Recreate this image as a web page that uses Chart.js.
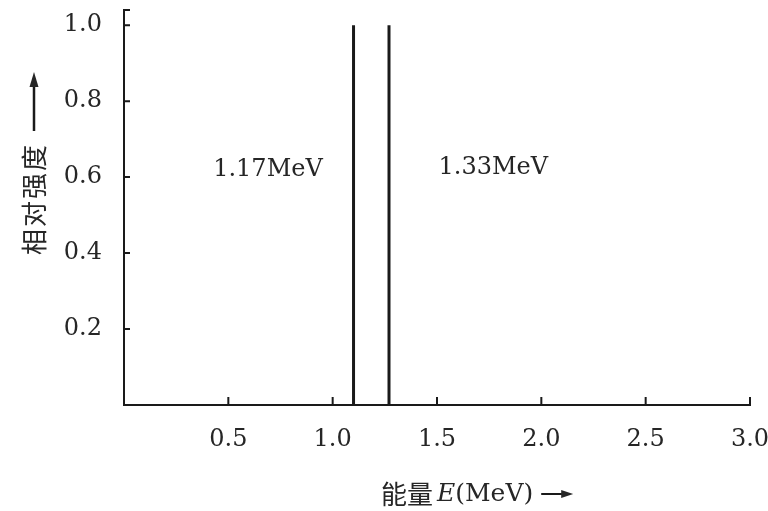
<!DOCTYPE html>
<html>
<head>
<meta charset="utf-8">
<script src="https://cdn.jsdelivr.net/npm/chart.js@4"></script>
<style>
  html, body { margin: 0; padding: 0; background: #fff; }
  #wrap { width: 768px; height: 511px; }
</style>
</head>
<body>
<div id="wrap"><canvas id="c"></canvas></div>
<script>
'use strict';

// ── data ───────────────────────────────────────────────────────────
const xTicks        = [0.5, 1.0, 1.5, 2.0, 2.5, 3.0];
const yTicks        = [0.2, 0.4, 0.6, 0.8, 1.0];
const peakEnergy    = [1.10, 1.27];
const peakIntensity = [1.0, 1.0];
const peakLabels    = ['1.17MeV', '1.33MeV'];

// label anchors in data units (energy, intensity)
const LABEL_AT = [[0.69, 0.62], [1.77, 0.625]];

const INK   = '#1a1a1a';
const TEXT  = '#262626';
const SERIF = "'DejaVu Serif', 'Liberation Serif', serif";
const CJK   = "'Noto Sans CJK SC', sans-serif";

Chart.defaults.font.family = SERIF;
Chart.defaults.color = TEXT;

const datasets = peakEnergy.map((e, i) => ({
  data: [{ x: e, y: 0 }, { x: e, y: peakIntensity[i] }],
  showLine: true,
  borderColor: INK,
  borderWidth: 3,
  pointRadius: 0,
}));

// inward ticks, peak labels, axis titles
const decor = {
  id: 'decor',
  afterDraw(chart) {
    const { ctx, chartArea: a, scales: { x, y } } = chart;
    ctx.save();
    ctx.strokeStyle = INK;
    ctx.lineWidth = 2;
    ctx.beginPath();
    xTicks.forEach(v => {
      const px = x.getPixelForValue(v);
      ctx.moveTo(px, a.bottom);
      ctx.lineTo(px, a.bottom - 8);
    });
    yTicks.forEach(v => {
      const py = y.getPixelForValue(v);
      ctx.moveTo(a.left, py);
      ctx.lineTo(a.left + 6, py);
    });
    // little cap at the top of the y axis
    ctx.moveTo(a.left, a.top);
    ctx.lineTo(a.left + 6, a.top);
    ctx.stroke();

    // peak labels
    ctx.fillStyle = TEXT;
    ctx.font = '24px ' + SERIF;
    ctx.textAlign = 'center';
    ctx.textBaseline = 'middle';
    peakLabels.forEach((t, i) => {
      ctx.fillText(t, x.getPixelForValue(LABEL_AT[i][0]), y.getPixelForValue(LABEL_AT[i][1]));
    });

    // y title (rotated, reads bottom to top) + arrow
    ctx.save();
    ctx.translate(a.left - 90, 255);
    ctx.rotate(-Math.PI / 2);
    ctx.textAlign = 'left';
    ctx.font = '26px ' + CJK;
    ctx.letterSpacing = '2px';
    ctx.fillText('相对强度', 0, 0);
    ctx.letterSpacing = '0px';
    ctx.lineWidth = 2.5;
    ctx.beginPath();
    ctx.moveTo(124, 0);
    ctx.lineTo(172, 0);
    ctx.stroke();
    ctx.beginPath();
    ctx.moveTo(183, 0);
    ctx.lineTo(168, -4.5);
    ctx.lineTo(168, 4.5);
    ctx.closePath();
    ctx.fill();
    ctx.restore();

    // x title: 能量 E(MeV) + arrow
    let tx = 381;
    const ty = 494;
    ctx.textAlign = 'left';
    ctx.font = '26px ' + CJK;
    ctx.fillText('能量', tx, ty);
    tx += ctx.measureText('能量').width + 4;
    ctx.font = 'italic 25px ' + SERIF;
    ctx.fillText('E', tx, ty);
    tx += ctx.measureText('E').width;
    ctx.font = '25px ' + SERIF;
    ctx.fillText('(MeV)', tx, ty);
    tx += ctx.measureText('(MeV)').width + 8;
    ctx.lineWidth = 2;
    ctx.beginPath();
    ctx.moveTo(tx, ty);
    ctx.lineTo(tx + 24, ty);
    ctx.stroke();
    ctx.beginPath();
    ctx.moveTo(tx + 32, ty);
    ctx.lineTo(tx + 20, ty - 4);
    ctx.lineTo(tx + 20, ty + 4);
    ctx.closePath();
    ctx.fill();
    ctx.restore();
  },
};

new Chart(document.getElementById('c'), {
  type: 'scatter',
  data: { datasets },
  options: {
    responsive: true,
    maintainAspectRatio: false,
    animation: false,
    layout: { padding: 0 },
    plugins: { legend: { display: false }, tooltip: { enabled: false } },
    scales: {
      x: {
        type: 'linear',
        min: 0,
        max: 3.0,
        afterBuildTicks: s => { s.ticks = xTicks.map(v => ({ value: v })); },
        afterFit: s => { s.height = 106; s.paddingRight = 18; s.paddingLeft = 0; },
        grid: { display: false },
        border: { display: true, color: INK, width: 2 },
        ticks: {
          padding: 12,
          color: TEXT,
          font: { size: 24 },
          maxRotation: 0,
          callback: v => Number(v).toFixed(1),
        },
      },
      y: {
        type: 'linear',
        min: 0,
        max: 1.04,
        afterBuildTicks: s => { s.ticks = yTicks.map(v => ({ value: v })); },
        afterFit: s => { s.width = 124; s.paddingTop = 10; s.paddingBottom = 0; },
        grid: { display: false },
        border: { display: true, color: INK, width: 2 },
        ticks: {
          padding: 14,
          color: TEXT,
          font: { size: 24 },
          callback: v => Number(v).toFixed(1),
        },
      },
    },
  },
  plugins: [decor],
});
</script>
</body>
</html>
